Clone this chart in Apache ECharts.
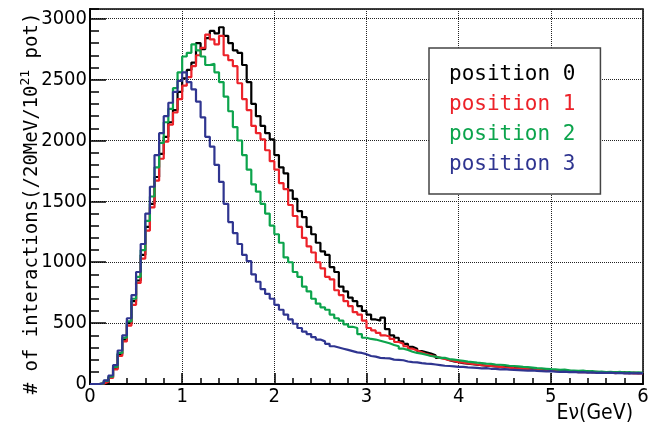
<!DOCTYPE html>
<html>
<head>
<meta charset="utf-8">
<script src="https://cdn.jsdelivr.net/npm/echarts@6/dist/echarts.min.js"></script>
<style>
html, body { margin: 0; padding: 0; background: #fff; }
#chart { width: 655px; height: 425px; }
</style>
</head>
<body>
<div id="chart"></div>
<script>
// histogram bins, 0 - 6 GeV
var binWidth = 0.05;
var xMin = 0, xMax = 6;
var yMax = 3080;
var seriesNames = ['position 0', 'position 1', 'position 2', 'position 3'];
var seriesColors = ['#000000', '#ec2229', '#0ca44c', '#2f3590'];

var pos0 = [
    0, 0, 4, 22, 55, 130, 245, 365, 500, 680,
    850, 1060, 1290, 1480, 1700, 1890, 2030, 2150, 2250, 2400,
    2510, 2580, 2640, 2800, 2750, 2840, 2900, 2880, 2930, 2860,
    2800, 2740, 2720, 2620, 2480, 2300, 2200, 2120, 2060, 2010,
    1880, 1780, 1730, 1590, 1520, 1420, 1370, 1290, 1230, 1160,
    1090, 1060, 960, 920, 800, 760, 710, 680, 640, 600,
    570, 530, 520, 545, 450, 400, 380, 350, 330, 305,
    290, 270, 260, 250, 235, 215, 210, 195, 185, 180,
    172, 168, 162, 158, 155, 150, 148, 145, 142, 140,
    138, 135, 130, 128, 126, 122, 120, 118, 115, 112,
    112, 110, 106, 108, 104, 102, 100, 103, 98, 100,
    96, 98, 94, 96, 92, 95, 90, 93, 90, 92
];
var pos1 = [
    0, 0, 3, 18, 50, 120, 230, 350, 480, 650,
    830, 1030, 1260, 1450, 1670, 1850, 1990, 2130, 2230, 2340,
    2450, 2520, 2610, 2700, 2760, 2870, 2830, 2790, 2860, 2700,
    2660, 2610, 2470, 2340, 2250, 2120, 2060, 2010, 1920, 1830,
    1760, 1650, 1600, 1470, 1380, 1290, 1200, 1130, 1080, 1000,
    950, 880, 860, 770, 730, 680, 640, 590, 570, 520,
    460, 440, 420, 400, 390, 370, 345, 330, 310, 290,
    275, 260, 245, 235, 225, 215, 205, 195, 190, 180,
    176, 170, 165, 160, 155, 152, 148, 144, 140, 136,
    134, 130, 128, 124, 122, 118, 116, 114, 110, 112,
    108, 104, 106, 100, 102, 98, 100, 96, 99, 94,
    96, 92, 95, 90, 93, 89, 92, 88, 90, 87
];
var pos2 = [
    0, 0, 5, 25, 60, 140, 255, 380, 515, 700,
    880, 1100, 1340, 1540, 1780, 1980, 2150, 2260, 2430, 2560,
    2690, 2720, 2790, 2740, 2690, 2620, 2630, 2560, 2480, 2360,
    2240, 2110, 2000, 1880, 1760, 1640, 1580, 1480, 1400, 1300,
    1230, 1160, 1040, 1000, 920, 880, 800, 760, 700, 660,
    630, 610, 570, 540, 520, 490, 470, 460, 410, 380,
    370, 365, 355, 345, 335, 320, 310, 290, 280, 265,
    255, 250, 240, 230, 225, 215, 215, 205, 200, 195,
    190, 184, 180, 175, 172, 168, 165, 160, 158, 155,
    150, 148, 144, 140, 138, 134, 130, 128, 125, 122,
    120, 116, 118, 112, 110, 108, 110, 104, 106, 100,
    102, 98, 100, 96, 99, 94, 97, 92, 95, 92
];
var pos3 = [
    0, 0, 6, 30, 70, 155, 275, 400, 540, 730,
    920, 1150, 1400, 1620, 1880, 2060, 2200, 2310, 2400, 2490,
    2560, 2480, 2420, 2320, 2190, 2030, 1950, 1800, 1660, 1480,
    1330, 1240, 1150, 1060, 1010, 900, 840, 780, 740, 700,
    650, 610, 570, 530, 495, 460, 430, 410, 385, 365,
    350, 330, 310, 300, 290, 280, 270, 260, 255, 245,
    230, 225, 215, 212, 210, 200, 198, 195, 185, 180,
    178, 172, 168, 165, 160, 155, 150, 148, 145, 140,
    140, 136, 134, 132, 128, 130, 125, 124, 120, 122,
    118, 116, 114, 112, 110, 112, 108, 106, 104, 106,
    102, 100, 101, 98, 99, 96, 97, 94, 96, 92,
    94, 91, 93, 89, 92, 88, 90, 87, 89, 88
];
var allSeries = [pos0, pos1, pos2, pos3];

var tickFont = 'DejaVu Sans Condensed, sans-serif';
var monoFont = 'DejaVu Sans Mono, monospace';

// [low edge, content] pairs, closing point at the right edge
function toSteps(values) {
    var pts = [];
    for (var i = 0; i < values.length; i++) {
        pts.push([+(i * binWidth).toFixed(3), values[i]]);
    }
    pts.push([xMax, values[values.length - 1]]);
    return pts;
}

var myChart = echarts.init(document.getElementById('chart'), null, {renderer: 'canvas'});

var series = [];
for (var k = 0; k < allSeries.length; k++) {
    series.push({
        name: seriesNames[k],
        type: 'line',
        step: 'end',
        symbol: 'none',
        showSymbol: false,
        color: seriesColors[k],
        lineStyle: {width: 2.2, color: seriesColors[k]},
        data: toSteps(allSeries[k])
    });
}

var plainNum = function (v) { return String(v); };

var option = {
    animation: false,
    backgroundColor: '#fff',
    grid: {
        left: 90, right: 12, top: 9, bottom: 41,
        show: true,
        borderColor: '#000',
        borderWidth: 1.5,
        outerBoundsMode: 'none'
    },
    legend: {
        orient: 'vertical',
        left: 429,
        top: 48,
        icon: 'none',
        itemWidth: 0,
        itemHeight: 14,
        itemGap: 0,
        padding: [12, 25, 14, 15],
        backgroundColor: '#fff',
        borderColor: '#444',
        borderWidth: 1.5,
        borderRadius: 0,
        selectedMode: false,
        textStyle: {fontFamily: monoFont, fontSize: 21, lineHeight: 30},
        data: seriesNames.map(function (n, i) {
            return {name: n, textStyle: {color: seriesColors[i]}};
        })
    },
    graphic: [{
        type: 'text',
        right: 22,
        top: 403,
        silent: true,
        style: {text: 'Eν(GeV)', fontFamily: tickFont, fontSize: 21, fill: '#000'}
    }],
    xAxis: {
        type: 'value',
        min: xMin,
        max: xMax,
        interval: 1,
        axisLine: {show: true, onZero: false, lineStyle: {color: '#000', width: 2}},
        axisTick: {show: true, inside: true, length: 11, lineStyle: {color: '#000', width: 1.5}},
        minorTick: {show: true, splitNumber: 5, length: 6, lineStyle: {color: '#000', width: 1.5}},
        splitLine: {show: true, lineStyle: {type: 'dotted', color: '#222', width: 1}},
        axisLabel: {fontFamily: tickFont, fontSize: 20, color: '#000', margin: 3, formatter: plainNum}
    },
    yAxis: [{
        type: 'value',
        min: 0,
        max: yMax,
        interval: 500,
        name: '# of interactions(/20MeV/10{sup|21} pot)',
        nameLocation: 'middle',
        nameRotate: 90,
        nameGap: 45,
        nameMoveOverlap: false,
        nameTextStyle: {
            fontFamily: monoFont, fontSize: 19, color: '#000', lineHeight: 26,
            padding: [0, 14, 0, 0],
            rich: {sup: {fontFamily: monoFont, fontSize: 13, verticalAlign: 'top', lineHeight: 13}}
        },
        axisLine: {show: true, onZero: false, lineStyle: {color: '#000', width: 2}},
        axisTick: {show: true, inside: true, length: 16, lineStyle: {color: '#000', width: 1.5}},
        minorTick: {show: false},
        splitLine: {show: true, lineStyle: {type: 'dotted', color: '#222', width: 1}},
        axisLabel: {fontFamily: tickFont, fontSize: 20, color: '#000', margin: 3, showMaxLabel: false, formatter: plainNum}
    }, {
        // minor ticks every 100
        type: 'value',
        position: 'left',
        offset: 0,
        min: 0,
        max: yMax,
        interval: 100,
        axisLine: {show: false, onZero: false},
        axisTick: {show: true, inside: true, length: 9, lineStyle: {color: '#000', width: 1.5}},
        axisLabel: {show: false},
        splitLine: {show: false}
    }],
    series: series
};
myChart.setOption(option);
</script>
</body>
</html>
